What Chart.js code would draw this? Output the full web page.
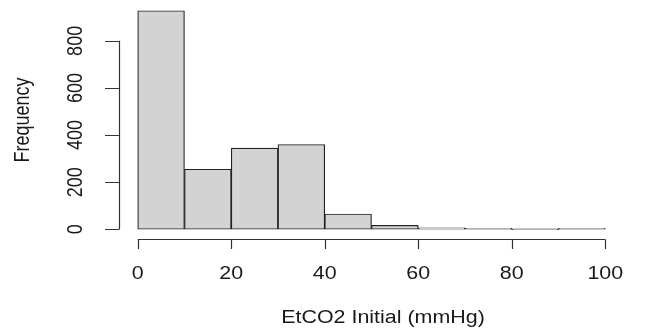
<!DOCTYPE html>
<html>
<head>
<meta charset="utf-8">
<script src="https://cdn.jsdelivr.net/npm/chart.js@4"></script>
<style>
  html, body { margin: 0; padding: 0; background: #fff; }
  #wrap { width: 650px; height: 329px; }
</style>
</head>
<body>
<div id="wrap"><canvas id="chart"></canvas></div>
<script>
// histogram bins (mid points) and counts
const binMids = [5, 15, 25, 35, 45, 55, 65, 75, 85, 95];
const counts = [928, 255, 345, 360, 65, 17, 6, 3, 0, 3];
const xTicks = [0, 20, 40, 60, 80, 100];
const yTicks = [0, 200, 400, 600, 800];
const xTitle = 'EtCO2 Initial (mmHg)';
const yTitle = 'Frequency';

const FONT = '18px "Liberation Sans", Arial, sans-serif';
const STRETCH = 1.19; // the picture is a bit wider than tall

// text drawn with a small horizontal stretch, like the reference
function drawText(ctx, text, x, y, rot) {
    ctx.save();
    ctx.translate(x, y);
    ctx.scale(STRETCH, 1);
    if (rot) ctx.rotate(rot);
    ctx.fillText(text, 0, 0);
    ctx.restore();
}

// R style axes, detached from the plot box
const rAxes = {
    id: 'rAxes',
    afterDraw(chart) {
        const ctx = chart.ctx;
        const x = chart.scales.x;
        const y = chart.scales.y;
        const axisX = chart.chartArea.left;
        const axisY = chart.chartArea.bottom + 1;

        ctx.save();
        ctx.strokeStyle = '#333';
        ctx.lineWidth = 1.2;

        // y axis
        ctx.beginPath();
        ctx.moveTo(axisX + 0.5, y.getPixelForValue(yTicks[0]));
        ctx.lineTo(axisX + 0.5, y.getPixelForValue(yTicks[yTicks.length - 1]));
        yTicks.forEach(v => {
            const py = Math.round(y.getPixelForValue(v)) + 0.5;
            ctx.moveTo(axisX + 0.5, py);
            ctx.lineTo(axisX - 14, py);
        });
        ctx.stroke();

        // x axis
        ctx.beginPath();
        ctx.moveTo(x.getPixelForValue(xTicks[0]), axisY + 0.5);
        ctx.lineTo(x.getPixelForValue(xTicks[xTicks.length - 1]), axisY + 0.5);
        xTicks.forEach(v => {
            const px = Math.round(x.getPixelForValue(v)) + 0.5;
            ctx.moveTo(px, axisY + 0.5);
            ctx.lineTo(px, axisY + 10);
        });
        ctx.stroke();

        ctx.fillStyle = '#1a1a1a';
        ctx.font = FONT;
        ctx.textAlign = 'center';
        ctx.textBaseline = 'alphabetic';
        xTicks.forEach(v => {
            drawText(ctx, String(v), x.getPixelForValue(v), 279);
        });
        drawText(ctx, xTitle, 383, 323);

        ctx.textBaseline = 'middle';
        yTicks.forEach(v => {
            drawText(ctx, String(v), 76, y.getPixelForValue(v), -Math.PI / 2);
        });
        drawText(ctx, yTitle, 23, (chart.chartArea.top + chart.chartArea.bottom) / 2, -Math.PI / 2);
        ctx.restore();
    }
};

const ctx = document.getElementById('chart').getContext('2d');
new Chart(ctx, {
    type: 'bar',
    data: {
        datasets: [{
            data: binMids.map((m, i) => ({ x: m, y: counts[i] })),
            backgroundColor: '#d3d3d3',
            borderColor: '#222',
            borderWidth: 1.2,
            borderSkipped: false,
            barPercentage: 1,
            categoryPercentage: 1,
            minBarLength: 1,
        }],
    },
    options: {
        responsive: true,
        maintainAspectRatio: false,
        animation: false,
        layout: {
            padding: { left: 119, right: 26, top: 2, bottom: 91 },
        },
        plugins: {
            legend: { display: false },
            tooltip: { enabled: false },
        },
        scales: {
            x: { type: 'linear', min: -4, max: 104, offset: false, display: false },
            y: { min: -37, max: 965, display: false },
        },
    },
    plugins: [rAxes],
});
</script>
</body>
</html>
